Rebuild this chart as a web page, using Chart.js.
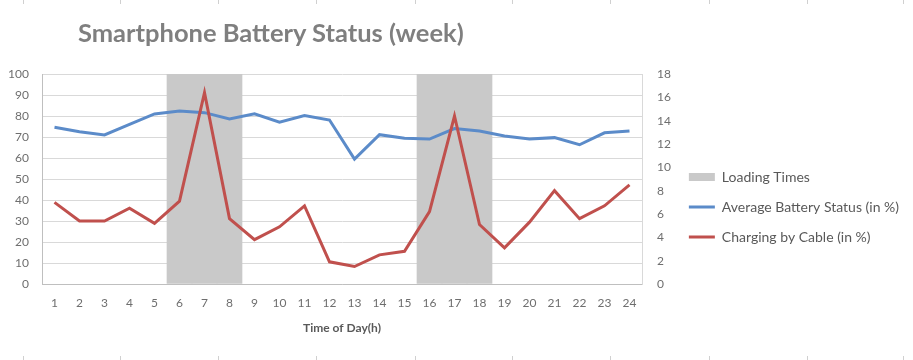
<!DOCTYPE html>
<html>
<head>
<meta charset="utf-8">
<script src="https://cdn.jsdelivr.net/npm/chart.js@4.4.1/dist/chart.umd.min.js"></script>
<style>
  html, body { margin: 0; padding: 0; background: #fff; }
  #wrap { position: relative; width: 913px; height: 360px; }
  #title {
    position: absolute; left: 78px; top: 17px; margin: 0;
    font: bold 25.5px Lato, sans-serif; color: #7f7f7f; white-space: nowrap;
  }
  canvas { position: absolute; left: 0; top: 0; }
</style>
</head>
<body>
<div id="wrap">
  <canvas id="myChart" width="913" height="360"></canvas>
  <h1 id="title">Smartphone Battery Status (week)</h1>
</div>
<script>
var hours = ['1','2','3','4','5','6','7','8','9','10','11','12','13','14','15','16','17','18','19','20','21','22','23','24'];
// gray bands, on the left axis (full height = 100)
var loadingTimes = [null,null,null,null,null,100,100,100,null,null,null,null,null,null,null,100,100,100,null,null,null,null,null,null];
// left axis 0-100
var avgBattery = [74.6,72.5,71,76,81,82.4,81.6,78.6,81,77.1,80.2,78.1,59.5,71.1,69.4,69,74,72.9,70.5,69,69.7,66.3,72,72.9];
// right axis 0-18
var charging = [7.0,5.4,5.4,6.5,5.2,7.1,16.4,5.6,3.8,4.9,6.7,1.9,1.5,2.5,2.8,6.2,14.4,5.1,3.1,5.3,8.0,5.6,6.7,8.5];

var leftTicks = [0,10,20,30,40,50,60,70,80,90,100];
var rightTicks = [0,2,4,6,8,10,12,14,16,18];

var cellMarks = [23,120,218,316,415,512,610,709,807,903];

var gray = '#c9c9c9', blue = '#5b8bc9', red = '#c0504d';
var tickColor = '#6e6e6e';
var padRight = 4;

// little sheet cell marks at top and bottom edge
var sheetMarks = {
  id: 'sheetMarks',
  afterDraw: function(chart) {
    var c = chart.ctx;
    c.save();
    c.strokeStyle = '#d0d0d0';
    c.lineWidth = 1;
    cellMarks.forEach(function(x){
      c.beginPath();
      c.moveTo(x + 0.5, 0); c.lineTo(x + 0.5, 4);
      c.moveTo(x + 0.5, 356); c.lineTo(x + 0.5, 360);
      c.stroke();
    });
    c.restore();
  }
};

var ctx = document.getElementById('myChart').getContext('2d');
var myChart = new Chart(ctx, {
  data: {
    labels: hours,
    datasets: [{
      type: 'bar',
      label: 'Loading Times',
      data: loadingTimes,
      backgroundColor: gray,
      borderWidth: 0,
      barPercentage: 1,
      categoryPercentage: 1,
      yAxisID: 'y',
      order: 3
    }, {
      type: 'line',
      label: 'Average Battery Status (in %)',
      data: avgBattery,
      borderColor: blue,
      borderWidth: 3,
      pointRadius: 0,
      tension: 0,
      yAxisID: 'y',
      order: 2
    }, {
      type: 'line',
      label: 'Charging by Cable (in %)',
      data: charging,
      borderColor: red,
      borderWidth: 3,
      pointRadius: 0,
      tension: 0,
      yAxisID: 'y1',
      order: 1
    }]
  },
  options: {
    responsive: false,
    animation: false,
    layout: { padding: { top: 74, left: 0, right: padRight, bottom: 20 } },
    plugins: {
      title: { display: false },
      tooltip: { enabled: false },
      legend: {
        position: 'right',
        maxWidth: 400,
        labels: {
          usePointStyle: true,
          pointStyleWidth: 26,
          boxHeight: 8,
          padding: 16,
          color: '#595959',
          font: { family: 'Lato', size: 14 },
          generateLabels: function(chart) {
            return chart.data.datasets.map(function(ds, i) {
              var isBar = ds.type === 'bar';
              return {
                text: ds.label,
                fillStyle: isBar ? ds.backgroundColor : ds.borderColor,
                strokeStyle: isBar ? ds.backgroundColor : ds.borderColor,
                lineWidth: isBar ? 0 : 3,
                pointStyle: isBar ? 'rect' : 'line',
                fontColor: '#595959',
                hidden: false,
                datasetIndex: i
              };
            });
          }
        }
      }
    },
    scales: {
      x: {
        offset: true,
        grid: { display: false, drawTicks: false },
        border: { color: '#bfbfbf' },
        ticks: { color: tickColor, padding: 12, font: { family: 'Lato', size: 12 }, maxRotation: 0, autoSkip: false },
        title: { display: true, text: 'Time of Day(h)', color: '#595959', font: { family: 'Lato', size: 12, weight: 'bold' }, padding: { top: 0, bottom: 5 } },
        afterFit: function(s) { s.height = 56; }
      },
      y: {
        position: 'left',
        min: 0, max: 100,
        afterBuildTicks: function(s) { s.ticks = leftTicks.map(function(v){ return { value: v }; }); },
        grid: { color: '#d9d9d9', drawTicks: false },
        border: { color: '#bfbfbf' },
        ticks: { color: tickColor, padding: 13, font: { family: 'Lato', size: 12 } },
        afterFit: function(s) { s.width = 42; }
      },
      y1: {
        position: 'right',
        min: 0, max: 18,
        afterBuildTicks: function(s) { s.ticks = rightTicks.map(function(v){ return { value: v }; }); },
        grid: { display: false, drawTicks: false },
        border: { color: '#d9d9d9' },
        ticks: { color: tickColor, padding: 15, font: { family: 'Lato', size: 12 } },
        afterFit: function(s) { s.width = 913 - 642 - padRight - s.chart.legend.width; }
      }
    }
  },
  plugins: [sheetMarks]
});
</script>
</body>
</html>
